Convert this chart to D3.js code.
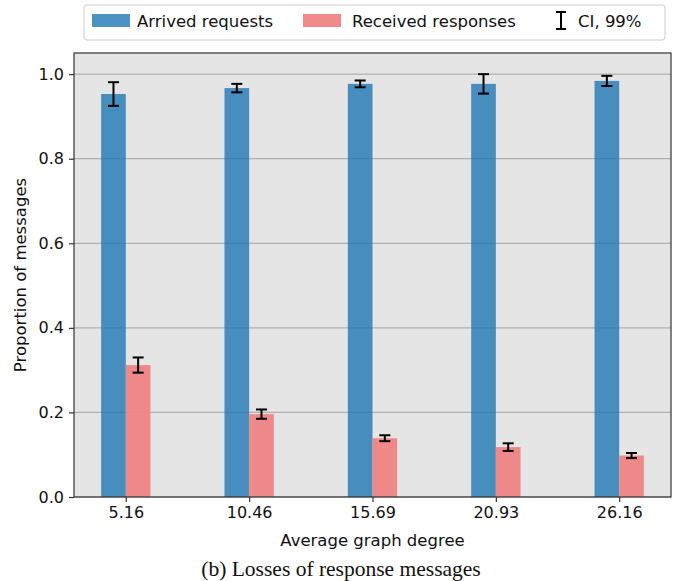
<!DOCTYPE html>
<html>
<head>
<meta charset="utf-8">
<script src="https://cdn.jsdelivr.net/npm/d3@7"></script>
<style>
  body { margin: 0; background: #fff; }
  svg { font-family: "DejaVu Sans", sans-serif; }
</style>
</head>
<body>
<svg id="chart" width="680" height="581"></svg>
<script>
var degrees = ['5.16', '10.46', '15.69', '20.93', '26.16'];
var arrived = [0.953, 0.967, 0.977, 0.977, 0.984];
var arrivedErr = [0.028, 0.010, 0.008, 0.023, 0.012];
var received = [0.312, 0.196, 0.139, 0.118, 0.098];
var receivedErr = [0.018, 0.011, 0.007, 0.009, 0.006];
var yTicks = [0, 0.2, 0.4, 0.6, 0.8, 1.0];

var svg = d3.select('#chart');
var pLeft = 74, pRight = 671, pTop = 53, pBottom = 497;
var barW = 0.2;

var x = d3.scaleLinear().domain([-0.42, 4.42]).range([pLeft, pRight]);
var y = d3.scaleLinear().domain([0, 1.05]).range([pBottom, pTop]);

// plot background + grid
svg.append('rect')
  .attr('x', pLeft).attr('y', pTop)
  .attr('width', pRight - pLeft).attr('height', pBottom - pTop)
  .attr('fill', '#e5e5e5');

svg.selectAll('line.grid')
  .data(yTicks)
  .enter()
  .append('line')
  .attr('class', 'grid')
  .attr('x1', pLeft).attr('x2', pRight)
  .attr('y1', function(d) { return y(d); })
  .attr('y2', function(d) { return y(d); })
  .attr('stroke', '#b0b0b0')
  .attr('stroke-width', 1.2);

function bars(vals, offset, color, op) {
  svg.append('g').selectAll('rect')
    .data(vals)
    .enter()
    .append('rect')
    .attr('x', function(d, i) { return x(i + offset); })
    .attr('width', function() { return x(barW) - x(0); })
    .attr('y', function(d) { return y(d); })
    .attr('height', function(d) { return y(0) - y(d); })
    .attr('fill', color)
    .attr('fill-opacity', op);
}
bars(arrived, -barW, '#1f77b4', 0.8);
bars(received, 0, '#f08080', 0.92);

function errors(vals, errs, offset) {
  var g = svg.append('g').attr('stroke', '#000').attr('stroke-width', 2);
  vals.forEach(function(v, i) {
    var cx = x(i + offset + barW / 2);
    var y1 = y(v + errs[i]), y2 = y(v - errs[i]);
    g.append('line').attr('x1', cx).attr('x2', cx).attr('y1', y1).attr('y2', y2);
    g.append('line').attr('x1', cx - 5.5).attr('x2', cx + 5.5).attr('y1', y1).attr('y2', y1);
    g.append('line').attr('x1', cx - 5.5).attr('x2', cx + 5.5).attr('y1', y2).attr('y2', y2);
  });
}
errors(arrived, arrivedErr, -barW);
errors(received, receivedErr, 0);

// frame
svg.append('rect')
  .attr('x', pLeft).attr('y', pTop)
  .attr('width', pRight - pLeft).attr('height', pBottom - pTop)
  .attr('fill', 'none').attr('stroke', '#333').attr('stroke-width', 1.2);

// axes
var xAxis = svg.append('g')
  .attr('transform', 'translate(0,' + pBottom + ')')
  .call(d3.axisBottom(x).tickValues(d3.range(degrees.length))
    .tickFormat(function(d) { return degrees[d]; }).tickSize(5).tickPadding(5));
var yAxis = svg.append('g')
  .attr('transform', 'translate(' + pLeft + ',0)')
  .call(d3.axisLeft(y).tickValues(yTicks).tickFormat(d3.format('.1f')).tickSize(5).tickPadding(5));
[xAxis, yAxis].forEach(function(a) {
  a.select('.domain').remove();
  a.selectAll('text').attr('font-size', 16).attr('fill', '#111')
    .attr('font-family', '"DejaVu Sans", sans-serif');
  a.selectAll('line').attr('stroke', '#333').attr('stroke-width', 1.2);
});

svg.append('text')
  .attr('x', (pLeft + pRight) / 2).attr('y', 546)
  .attr('text-anchor', 'middle').attr('font-size', 16.5).attr('fill', '#111')
  .text('Average graph degree');
svg.append('text')
  .attr('transform', 'translate(26,' + ((pTop + pBottom) / 2) + ') rotate(-90)')
  .attr('text-anchor', 'middle').attr('font-size', 16.5).attr('fill', '#111')
  .text('Proportion of messages');

// caption
svg.append('text')
  .attr('x', 341).attr('y', 576)
  .attr('text-anchor', 'middle')
  .attr('font-family', '"Liberation Serif", "Times New Roman", serif')
  .attr('font-size', 21.5).attr('fill', '#111')
  .text('(b) Losses of response messages');

// legend
var lg = svg.append('g');
lg.append('rect')
  .attr('x', 84).attr('y', 5).attr('width', 581).attr('height', 35)
  .attr('rx', 3).attr('fill', '#fff').attr('stroke', '#ccc');
lg.append('rect').attr('x', 92).attr('y', 14).attr('width', 38).attr('height', 13)
  .attr('fill', '#1f77b4').attr('fill-opacity', 0.8);
lg.append('text').attr('x', 137).attr('y', 27).attr('font-size', 16.5).attr('fill', '#111')
  .text('Arrived requests');
lg.append('rect').attr('x', 303).attr('y', 14).attr('width', 38).attr('height', 13)
  .attr('fill', '#f08080').attr('fill-opacity', 0.92);
lg.append('text').attr('x', 352).attr('y', 27).attr('font-size', 16.5).attr('fill', '#111')
  .text('Received responses');
var ci = lg.append('g').attr('stroke', '#000').attr('stroke-width', 2);
ci.append('line').attr('x1', 561).attr('x2', 561).attr('y1', 12).attr('y2', 29);
ci.append('line').attr('x1', 556).attr('x2', 566).attr('y1', 12).attr('y2', 12);
ci.append('line').attr('x1', 556).attr('x2', 566).attr('y1', 29).attr('y2', 29);
lg.append('text').attr('x', 578).attr('y', 27).attr('font-size', 16.5).attr('fill', '#111')
  .text('CI, 99%');
</script>
</body>
</html>
